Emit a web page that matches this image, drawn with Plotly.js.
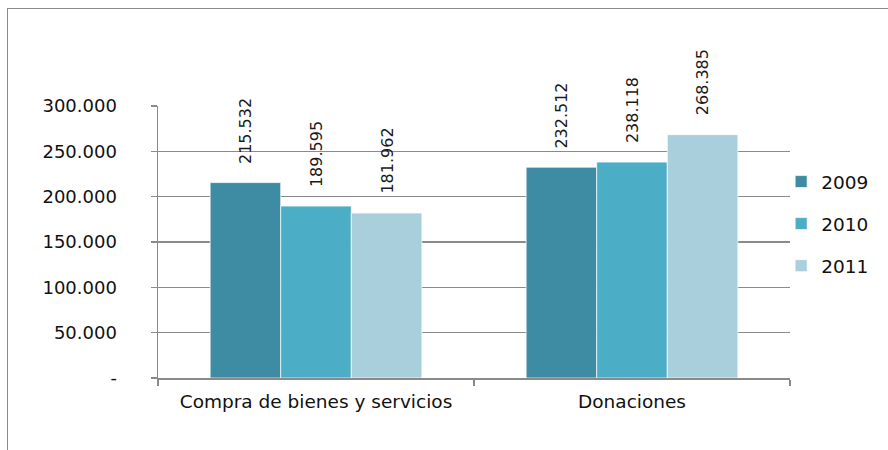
<!DOCTYPE html>
<html>
<head>
<meta charset="utf-8">
<script src="https://cdn.plot.ly/plotly-3.0.1.min.js"></script>
<style>
  html, body { margin: 0; padding: 0; background: #fff; overflow: hidden; }
  #wrap { position: relative; width: 888px; height: 450px; }
  #chart { position: absolute; left: 0; top: 0; width: 888px; height: 450px; }
  #frame { position: absolute; left: 7px; top: 8px; width: 2000px; height: 2000px;
           border-left: 1px solid #8a8a8a; border-top: 1px solid #8a8a8a; pointer-events: none; }
</style>
</head>
<body>
<div id="wrap"><div id="chart"></div><div id="frame"></div></div>
<script>
const categories = ["Compra de bienes y servicios", "Donaciones"];
const seriesNames = ["2009", "2010", "2011"];
const values2009 = [215532, 232512];
const values2010 = [189595, 238118];
const values2011 = [181962, 268385];
const seriesColors = ["#3d8ca3", "#4badc6", "#a9cfdd"];
const tickVals = [0, 50000, 100000, 150000, 200000, 250000, 300000];
const tickLabels = ["-", "50.000", "100.000", "150.000", "200.000", "250.000", "300.000"];

const allValues = [values2009, values2010, values2011];

function fmt(v) {
  return String(v).replace(/\B(?=(\d{3})+(?!\d))/g, ".");
}

const margin = { l: 158, r: 98, t: 106, b: 72 };
const W = 888, H = 450;
const bargap = 0.33;
const plotW = W - margin.l - margin.r;
const barPx = plotW / categories.length * (1 - bargap) / seriesNames.length;

const traces = seriesNames.map((name, i) => ({
  type: "bar",
  name: name,
  x: categories,
  y: allValues[i],
  legendgroup: "g" + i,
  marker: { color: seriesColors[i], line: { color: "rgba(255,255,255,0.7)", width: 1 } },
  hoverinfo: "none"
}));

const annotations = [];
seriesNames.forEach((name, i) => {
  categories.forEach((c, j) => {
    annotations.push({
      x: c, y: allValues[i][j], xref: "x", yref: "y",
      text: fmt(allValues[i][j]),
      textangle: -90,
      showarrow: false,
      xanchor: "center", yanchor: "bottom",
      xshift: (i - 1) * barPx,
      yshift: 17,
      font: { family: "DejaVu Sans", size: 16, color: "#1a1a1a" }
    });
  });
});

const layout = {
  width: W, height: H,
  margin: margin,
  paper_bgcolor: "rgba(0,0,0,0)",
  plot_bgcolor: "#fff",
  barmode: "group",
  bargap: bargap,
  bargroupgap: 0,
  showlegend: true,
  legend: {
    x: 0.986, xanchor: "left", y: 0.566, yanchor: "middle",
    font: { family: "DejaVu Sans", size: 18.5, color: "#111" },
    tracegroupgap: 15,
    bgcolor: "rgba(0,0,0,0)"
  },
  xaxis: {
    type: "category",
    showline: true, linecolor: "#8a8a8a", linewidth: 1.5,
    ticks: "outside", tickson: "boundaries", ticklen: 6, tickcolor: "#8a8a8a", tickwidth: 1.5,
    tickfont: { family: "DejaVu Sans", size: 18.5, color: "#111" },
    showgrid: false, zeroline: false,
    ticklabelstandoff: 6
  },
  yaxis: {
    range: [0, 300000],
    tickvals: tickVals, ticktext: tickLabels,
    showline: true, linecolor: "#8a8a8a", linewidth: 1.5,
    ticks: "outside", ticklen: 6, tickcolor: "#8a8a8a", tickwidth: 1.5,
    showgrid: true, gridcolor: "#8a8a8a", gridwidth: 1.5,
    zeroline: false,
    tickfont: { family: "DejaVu Sans", size: 18, color: "#111" },
    ticklabelstandoff: 30
  },
  annotations: annotations
};

Plotly.newPlot("chart", traces, layout, { displayModeBar: false, staticPlot: true });
</script>
</body>
</html>
